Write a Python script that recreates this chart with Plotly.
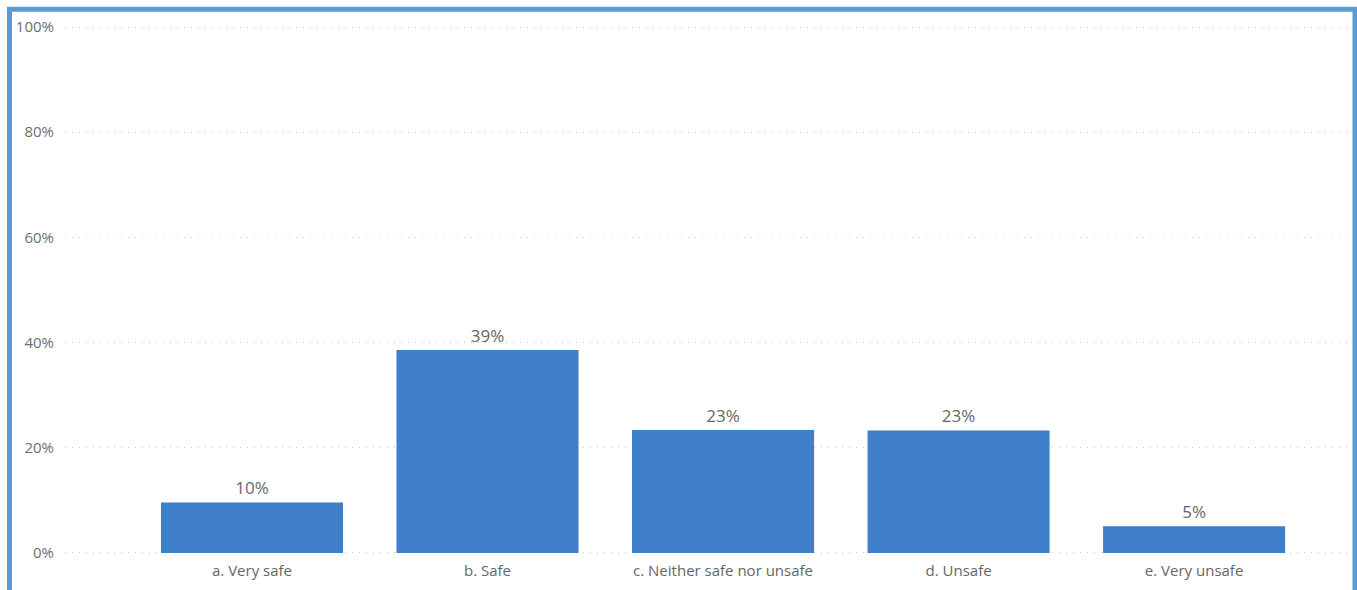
import plotly.graph_objects as go

# Survey responses: share of respondents per safety rating (percent)
categories = ["a. Very safe", "b. Safe", "c. Neither safe nor unsafe", "d. Unsafe", "e. Very unsafe"]
shares = [9.6, 38.6, 23.4, 23.3, 5.1]
y_ticks = [0, 20, 40, 60, 80, 100]
y_tick_labels = ["0%", "20%", "40%", "60%", "80%", "100%"]

BAR_BLUE = "#3F7EC8"
FRAME_BLUE = "#5B9BD5"
FONT = "Segoe UI, Open Sans, sans-serif"

fig = go.Figure(
    go.Bar(
        x=list(range(len(categories))),
        y=shares,
        width=0.773,
        marker=dict(color=BAR_BLUE, line=dict(width=0)),
        texttemplate="%{y:.0f}%",
        textposition="outside",
        textfont=dict(family=FONT, size=17, color="#666666"),
        cliponaxis=False,
        hoverinfo="skip",
    )
)

fig.update_layout(
    width=1357,
    height=590,
    margin=dict(l=65, r=7, t=26, b=36),
    paper_bgcolor="white",
    plot_bgcolor="white",
    showlegend=False,
    font=dict(family=FONT),
    xaxis=dict(
        range=[-0.794, 4.662],
        tickmode="array",
        tickvals=list(range(len(categories))),
        ticktext=categories,
        showgrid=False,
        zeroline=False,
        showline=False,
        ticks="",
        ticklabelstandoff=6,
        tickfont=dict(family=FONT, size=15, color="#666666"),
        fixedrange=True,
    ),
    yaxis=dict(
        # small padding so the 0% and 100% gridlines are drawn too
        range=[-0.2, 100.2],
        tickmode="array",
        tickvals=y_ticks,
        ticktext=y_tick_labels,
        showgrid=True,
        gridcolor="#C8C8C8",
        gridwidth=1,
        griddash="1px,6px",
        zeroline=False,
        showline=False,
        ticks="",
        ticklabelstandoff=10,
        tickfont=dict(family=FONT, size=15, color="#6E6E6E"),
        fixedrange=True,
    ),
    shapes=[
        dict(
            type="rect",
            xref="paper",
            yref="paper",
            x0=-0.0432,
            x1=1.0039,
            y0=-0.12,
            y1=1.0315,
            line=dict(color=FRAME_BLUE, width=5),
            fillcolor="rgba(0,0,0,0)",
            layer="above",
        )
    ],
)

fig.write_html("out.html")
